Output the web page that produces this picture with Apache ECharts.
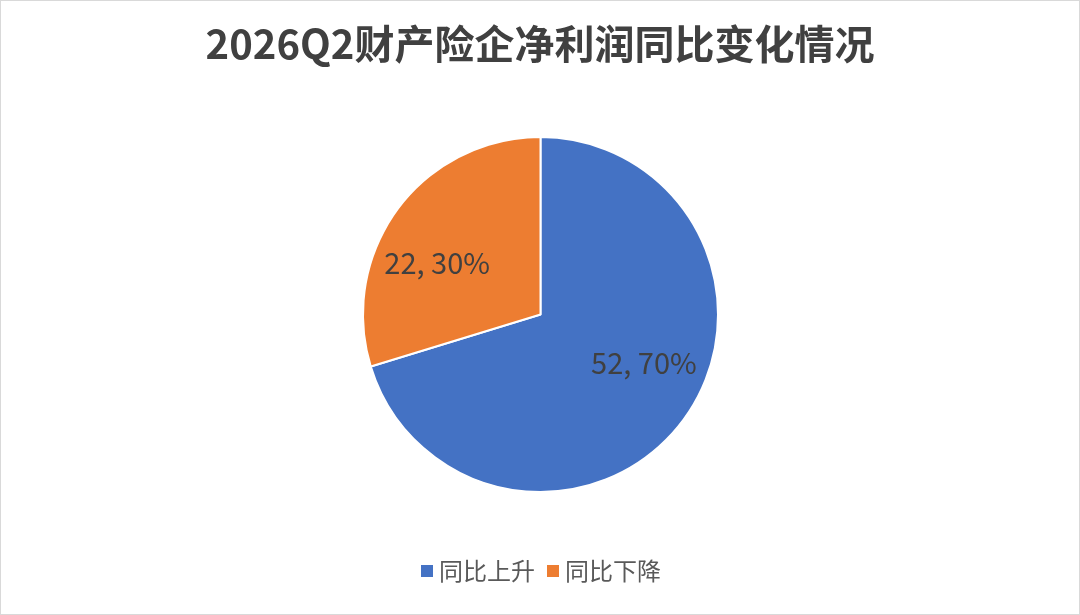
<!DOCTYPE html>
<html>
<head>
<meta charset="utf-8">
<script src="https://cdn.jsdelivr.net/npm/echarts@6/dist/echarts.min.js"></script>
<style>
html, body { margin: 0; padding: 0; background: #fff; }
#chart { width: 1078px; height: 613px; border: 1px solid #d9d9d9; }
</style>
</head>
<body>
<div id="chart"></div>
<script>
const titleText = '2026Q2财产险企净利润同比变化情况';
const categories = ['同比上升', '同比下降'];
const values = [52, 22];
const colors = ['#4472C4', '#ED7D31'];

let chart = echarts.init(document.getElementById('chart'));

let pieData = [];
for (let i = 0; i < categories.length; i++) {
    pieData.push({ name: categories[i], value: values[i] });
}
let total = values.reduce(function (a, b) { return a + b; }, 0);

chart.setOption({
    color: colors,
    title: {
        text: titleText,
        left: 'center',
        top: 18,
        textStyle: {
            fontFamily: 'Noto Sans CJK SC',
            fontWeight: 'bold',
            fontSize: 40,
            color: '#404040'
        }
    },
    legend: {
        data: categories,
        bottom: 26,
        left: 'center',
        itemWidth: 14,
        itemHeight: 14,
        itemGap: 10,
        icon: 'rect',
        textStyle: {
            fontFamily: 'Noto Sans CJK SC',
            fontSize: 24,
            color: '#595959'
        }
    },
    series: [
        {
            type: 'pie',
            center: [539.5, 313.5],
            radius: [0, 177.5],
            startAngle: 90,
            clockwise: true,
            data: pieData,
            itemStyle: { borderColor: '#fff', borderWidth: 2 },
            label: { show: false },
            labelLine: { show: false },
            emphasis: { scale: false }
        },
        {
            // label carrier: places labels like Excel does
            type: 'pie',
            center: [539.5, 312],
            radius: [0, 224],
            startAngle: 100.5,
            clockwise: true,
            silent: true,
            z: 3,
            data: pieData,
            itemStyle: { color: 'rgba(0,0,0,0)', borderWidth: 0 },
            label: {
                show: true,
                position: 'inside',
                fontFamily: 'Noto Sans CJK SC',
                fontSize: 29,
                color: '#404040',
                formatter: function (p) {
                    return p.value + ', ' + Math.round(p.value / total * 100) + '%';
                }
            },
            labelLine: { show: false },
            emphasis: { disabled: true }
        }
    ]
});
</script>
</body>
</html>
